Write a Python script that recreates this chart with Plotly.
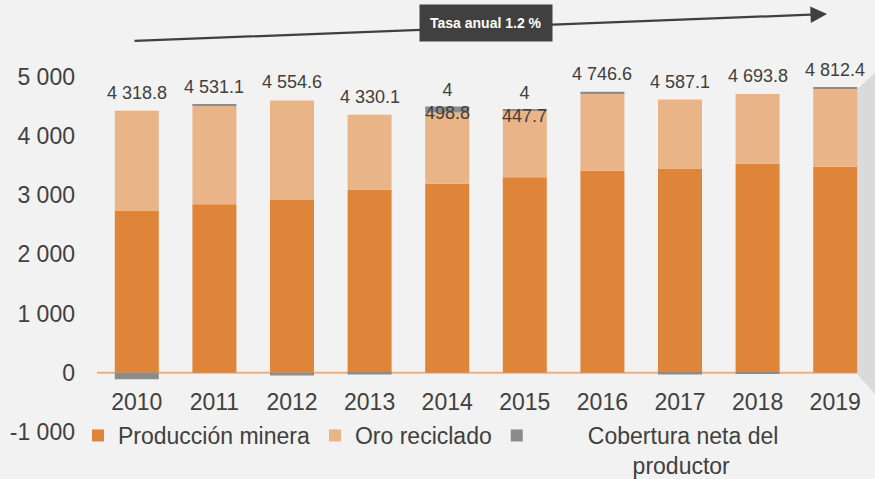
import plotly.graph_objects as go

years = ["2010", "2011", "2012", "2013", "2014", "2015", "2016", "2017", "2018", "2019"]
mineria = [2740, 2845, 2920, 3090, 3195, 3305, 3415, 3450, 3530, 3480]
reciclado = [1687, 1668, 1680, 1270, 1200, 1130, 1295, 1165, 1180, 1325]
cobertura = [-108, 18, -45, -30, 104, 13, 37, -28, -16, 7]
etiquetas = ["4 318.8", "4 531.1", "4 554.6", "4 330.1", "4<br>498.8", "4<br>447.7",
             "4 746.6", "4 587.1", "4 693.8", "4 812.4"]
y_ticks = [-1000, 0, 1000, 2000, 3000, 4000, 5000]
y_ticktext = ["-1 000", "0", "1 000", "2 000", "3 000", "4 000", "5 000"]

TXT = "#404040"
FONT = "Liberation Sans"
NB = "\u00a0"

fig = go.Figure()
fig.add_trace(go.Bar(x=years, y=mineria, name="Producción minera",
                     marker=dict(color="#DF8539", line=dict(width=0))))
fig.add_trace(go.Bar(x=years, y=reciclado, name="Oro reciclado",
                     marker=dict(color="#EAB489", line=dict(width=0))))
fig.add_trace(go.Bar(x=years, y=cobertura,
                     name=NB * 8 + "Cobertura neta del<br>" + NB * 15 + "productor",
                     marker=dict(color="#8C8C8C", line=dict(width=0))))

# data labels (x given as category index)
for i, (m, r, c, t) in enumerate(zip(mineria, reciclado, cobertura, etiquetas)):
    top = m + r + max(c, 0)
    wrapped = "<br>" in t
    fig.add_annotation(x=i, y=top, text=t, showarrow=False, xref="x", yref="y",
                       yanchor="middle", yshift=5 if wrapped else 18,
                       font=dict(family=FONT, size=18, color=TXT))

W, H = 875, 479
L, R, T, B = 78, 1, 54, 47
pw, ph = W - L - R, H - T - B
CAT0, CATW = 136.8, 77.6  # pixel centre of first category and category step


def px(xp):
    return (xp - L) / pw


def py(yp):
    return (H - B - yp) / ph


# zero line (spans the category area only)
fig.add_shape(type="line", xref="paper", yref="y", x0=px(97), x1=px(874), y0=0, y1=0,
              line=dict(color="#F0AE7E", width=2), layer="below")

# trend arrow
fig.add_annotation(x=px(827), y=py(14), xref="paper", yref="paper", text="",
                   showarrow=True, ax=133 - 827, ay=41 - 14, axref="pixel", ayref="pixel",
                   arrowhead=2, arrowsize=1.5, arrowwidth=2.2, arrowcolor=TXT)
fig.add_annotation(x=px(485.5), y=py(23), xref="paper", yref="paper",
                   xanchor="center", yanchor="middle",
                   text="<b>Tasa anual 1.2 %</b>", showarrow=False,
                   bgcolor="#404040", borderpad=10,
                   font=dict(family=FONT, size=14, color="white"))

# plot-area shadow on the right edge
fig.add_shape(type="path", xref="paper", yref="paper", layer="below",
              path=f"M{px(856)},{py(90)} L{px(876)},{py(72)} L{px(876)},{py(395)} L{px(856)},{py(373)} Z",
              fillcolor="#DADADA", line=dict(width=0))

zero_pos = py(373.3)
x_lo = (L - CAT0) / CATW
x_hi = (W - R - CAT0) / CATW

fig.update_layout(
    width=W, height=H,
    margin=dict(l=L, r=R, t=T, b=B, autoexpand=False),
    paper_bgcolor="#F2F2F2", plot_bgcolor="#F2F2F2",
    barmode="relative", bargap=0.433,
    font=dict(family=FONT, color=TXT),
    showlegend=True,
    legend=dict(orientation="h", x=0, xanchor="left",
                y=py(414), yanchor="top",
                traceorder="normal", valign="top", bgcolor="rgba(0,0,0,0)",
                font=dict(family=FONT, size=23, color=TXT)),
    xaxis=dict(type="category", range=[x_lo, x_hi], anchor="free", position=zero_pos,
               showline=False, showgrid=False, ticks="", ticklabelstandoff=13,
               tickfont=dict(family=FONT, size=23, color=TXT)),
    yaxis=dict(range=[-1000, 5385], tickvals=y_ticks, ticktext=y_ticktext,
               showgrid=False, zeroline=False,
               ticks="", ticklabelstandoff=2,
               tickfont=dict(family=FONT, size=23, color=TXT)),
)

fig.write_html("out.html", config={"displayModeBar": False},
               post_script="document.body.style.margin='0';")
